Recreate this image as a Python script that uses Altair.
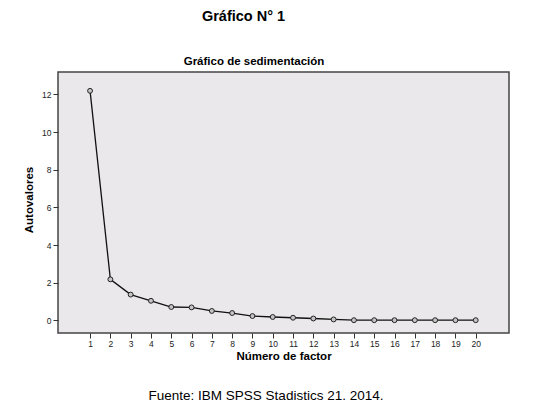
import altair as alt
import pandas as pd

factors = list(range(1, 21))
eigenvalues = [12.19, 2.18, 1.37, 1.04, 0.71, 0.69, 0.50, 0.39, 0.23, 0.18,
               0.14, 0.10, 0.05, 0.01, 0.01, 0.01, 0.01, 0.01, 0.01, 0.01]
y_ticks = [0, 2, 4, 6, 8, 10, 12]

df = pd.DataFrame({"factor": factors, "valor": eigenvalues})

W, H = 451, 261
FONT = "Liberation Sans"

x = alt.X("factor:Q", scale=alt.Scale(domain=[-0.58, 21.64], nice=False, zero=False),
          axis=alt.Axis(values=factors, title=None, grid=False, domain=False,
                        tickSize=5, tickColor="#333", labelFontSize=8.5, labelColor="#222",
                        labelFont=FONT, labelPadding=1, labelFlush=False))
y = alt.Y("valor:Q", scale=alt.Scale(domain=[-0.67, 13.19], nice=False, zero=False),
          axis=alt.Axis(values=y_ticks, title=None, grid=False, domain=False,
                        tickSize=5, tickColor="#333", labelFontSize=8.5, labelColor="#222",
                        labelFont=FONT, labelPadding=2, labelFlush=False))

base = alt.Chart(df)
line = base.mark_line(color="#111", strokeWidth=1.3).encode(x=x, y=y)
pts = base.mark_point(shape="circle", size=24, filled=True, fill="#c4c4c4",
                      stroke="#222", strokeWidth=1, opacity=1).encode(x=x, y=y)

def label(text, xv, yv, size, bold=True, angle=0):
    return alt.Chart(pd.DataFrame({"t": [text]})).mark_text(
        font=FONT, fontSize=size, fontWeight="bold" if bold else "normal",
        color="#000", angle=angle, align="center", baseline="middle"
    ).encode(text="t:N", x=alt.value(xv), y=alt.value(yv))

t1 = label("Gráfico N° 1", 185.5, -55, 14.5)
t2 = label("Gráfico de sedimentación", 196, -10, 11.5)
t3 = label("Número de factor", 226, 285, 11.5)
t4 = label("Autovalores", -28, 128, 11.5, angle=270)
t5 = label("Fuente: IBM SPSS Stadistics 21. 2014.", 208, 324, 13.5, bold=False)

chart = alt.layer(line, pts, t1, t2, t3, t4, t5).properties(
    width=W, height=H,
    background="#ffffff",
    autosize=alt.AutoSizeParams(type="none"),
    padding={"left": 50, "top": 64, "right": 20, "bottom": 70},
).configure_view(fill="#ebe8eb", stroke="#444", strokeWidth=1.5)

chart.save("out.html", embed_options={"renderer": "svg", "actions": False})
